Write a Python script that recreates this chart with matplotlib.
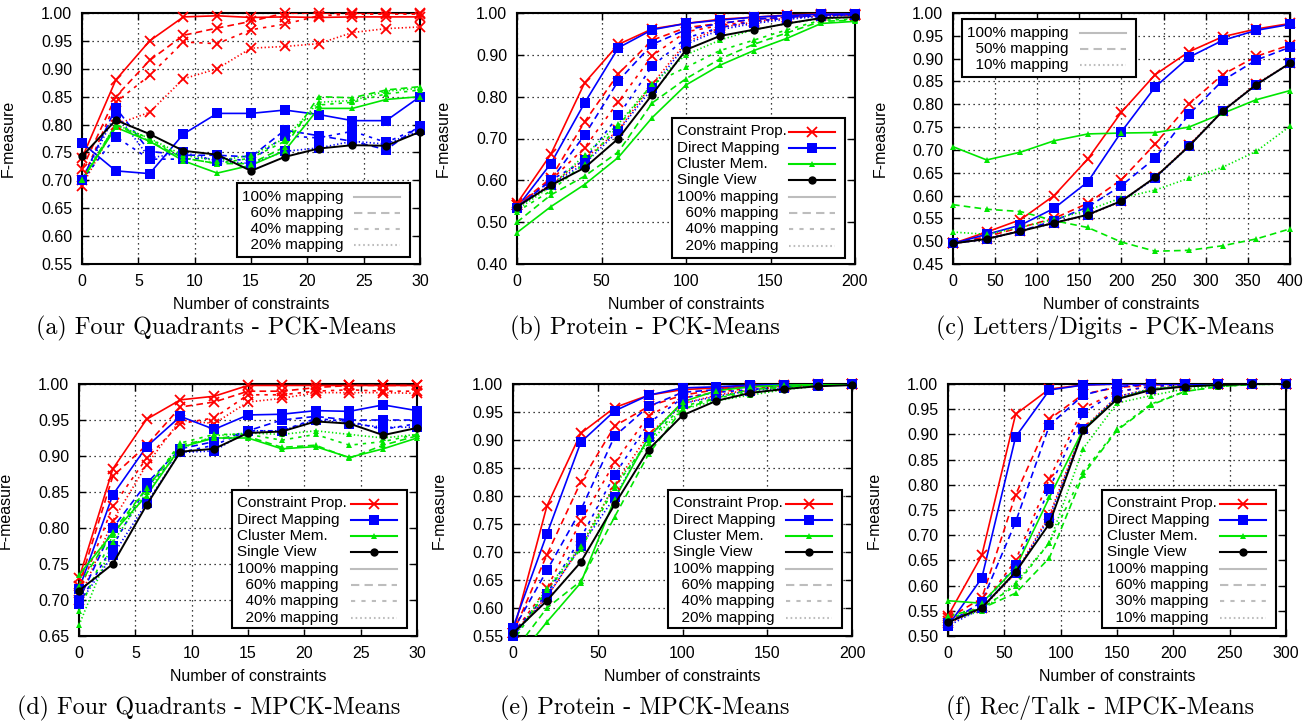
import matplotlib
matplotlib.use("Agg")
import matplotlib.pyplot as plt
from matplotlib.lines import Line2D
from matplotlib.patches import Rectangle
import numpy as np

plt.rcParams['font.family'] = ['Liberation Sans', 'DejaVu Sans']

# ---- données (lecture du graphique) ----
# chaque liste de méthode : [100%, 60%, 40%, 20%] (ou 3 niveaux pour (c))
a_x = [0, 3, 6, 9, 12, 15, 18, 21, 24, 27, 30]
a_cp = [[0.74, 0.88, 0.95, 0.993, 0.995, 0.992, 0.993, 0.992, 0.993, 0.993, 0.993],
        [0.72, 0.85, 0.915, 0.96, 0.973, 0.985, 1.0, 1.0, 1.0, 1.0, 1.0],
        [0.70, 0.84, 0.888, 0.948, 0.945, 0.97, 0.98, 0.995, 0.998, 0.998, 0.998],
        [0.69, 0.80, 0.822, 0.882, 0.90, 0.937, 0.94, 0.945, 0.965, 0.972, 0.975]]
a_dm = [[0.767, 0.717, 0.712, 0.783, 0.82, 0.82, 0.826, 0.818, 0.807, 0.807, 0.85],
        [0.70, 0.83, 0.752, 0.745, 0.745, 0.742, 0.79, 0.78, 0.77, 0.755, 0.798],
        [0.70, 0.778, 0.738, 0.738, 0.74, 0.735, 0.78, 0.776, 0.788, 0.768, 0.795],
        [0.70, 0.82, 0.74, 0.75, 0.735, 0.73, 0.752, 0.758, 0.77, 0.765, 0.79]]
a_cm = [[0.70, 0.795, 0.77, 0.735, 0.713, 0.727, 0.753, 0.829, 0.829, 0.845, 0.85],
        [0.70, 0.80, 0.77, 0.74, 0.73, 0.73, 0.76, 0.85, 0.848, 0.862, 0.868],
        [0.70, 0.80, 0.775, 0.74, 0.73, 0.74, 0.77, 0.835, 0.84, 0.855, 0.862],
        [0.70, 0.80, 0.775, 0.745, 0.735, 0.745, 0.775, 0.84, 0.843, 0.86, 0.865]]
a_sv = [0.743, 0.808, 0.783, 0.753, 0.746, 0.717, 0.742, 0.757, 0.763, 0.762, 0.787]

b_x = [0, 20, 40, 60, 80, 100, 120, 140, 160, 180, 200]
b_cp = [[0.545, 0.662, 0.833, 0.925, 0.962, 0.975, 0.985, 0.99, 0.995, 0.998, 0.998],
        [0.54, 0.605, 0.74, 0.855, 0.935, 0.965, 0.975, 0.985, 0.99, 0.995, 0.995],
        [0.54, 0.60, 0.678, 0.788, 0.898, 0.955, 0.97, 0.98, 0.99, 0.995, 0.995],
        [0.54, 0.59, 0.65, 0.72, 0.83, 0.93, 0.965, 0.978, 0.988, 0.993, 0.995]]
b_dm = [[0.535, 0.64, 0.785, 0.917, 0.96, 0.975, 0.983, 0.99, 0.994, 0.997, 0.998],
        [0.535, 0.60, 0.708, 0.838, 0.925, 0.96, 0.975, 0.985, 0.99, 0.995, 0.997],
        [0.535, 0.60, 0.648, 0.755, 0.873, 0.94, 0.965, 0.98, 0.988, 0.994, 0.996],
        [0.535, 0.59, 0.64, 0.718, 0.82, 0.925, 0.96, 0.975, 0.985, 0.992, 0.995]]
b_cm = [[0.475, 0.537, 0.59, 0.655, 0.75, 0.828, 0.875, 0.91, 0.94, 0.975, 0.98],
        [0.50, 0.565, 0.61, 0.668, 0.785, 0.843, 0.89, 0.925, 0.953, 0.98, 0.983],
        [0.525, 0.575, 0.64, 0.73, 0.83, 0.87, 0.91, 0.935, 0.96, 0.983, 0.985],
        [0.53, 0.585, 0.66, 0.735, 0.83, 0.90, 0.935, 0.96, 0.975, 0.987, 0.99]]
b_sv = [0.537, 0.588, 0.63, 0.70, 0.805, 0.912, 0.945, 0.96, 0.975, 0.988, 0.99]

c_x = [0, 40, 80, 120, 160, 200, 240, 280, 320, 360, 400]
c_cp = [[0.495, 0.52, 0.547, 0.60, 0.68, 0.783, 0.865, 0.915, 0.948, 0.965, 0.977],
        [0.495, 0.51, 0.53, 0.55, 0.583, 0.635, 0.713, 0.80, 0.865, 0.905, 0.93],
        [0.495, 0.505, 0.523, 0.54, 0.557, 0.588, 0.64, 0.71, 0.785, 0.845, 0.89]]
c_dm = [[0.495, 0.515, 0.535, 0.572, 0.63, 0.74, 0.838, 0.903, 0.94, 0.962, 0.975],
        [0.495, 0.505, 0.522, 0.545, 0.575, 0.622, 0.682, 0.778, 0.852, 0.897, 0.925],
        [0.495, 0.505, 0.522, 0.54, 0.558, 0.588, 0.638, 0.708, 0.785, 0.843, 0.89]]
c_cm = [[0.707, 0.678, 0.695, 0.72, 0.735, 0.737, 0.738, 0.75, 0.78, 0.81, 0.83],
        [0.58, 0.57, 0.565, 0.545, 0.53, 0.498, 0.478, 0.48, 0.49, 0.505, 0.527],
        [0.52, 0.515, 0.53, 0.548, 0.568, 0.595, 0.612, 0.638, 0.662, 0.697, 0.752]]
c_sv = [0.495, 0.505, 0.522, 0.54, 0.558, 0.588, 0.64, 0.708, 0.785, 0.843, 0.89]

d_x = [0, 3, 6, 9, 12, 15, 18, 21, 24, 27, 30]
d_cp = [[0.73, 0.882, 0.951, 0.978, 0.983, 0.998, 0.998, 0.998, 0.998, 0.998, 0.998],
        [0.72, 0.872, 0.915, 0.968, 0.975, 0.99, 0.99, 0.995, 0.998, 0.998, 0.998],
        [0.71, 0.83, 0.897, 0.945, 0.953, 0.985, 0.985, 0.99, 0.992, 0.99, 0.99],
        [0.70, 0.81, 0.888, 0.95, 0.945, 0.975, 0.98, 0.988, 0.988, 0.988, 0.987]]
d_dm = [[0.715, 0.846, 0.913, 0.955, 0.937, 0.957, 0.958, 0.963, 0.962, 0.971, 0.963],
        [0.70, 0.80, 0.862, 0.91, 0.92, 0.935, 0.95, 0.955, 0.95, 0.95, 0.95],
        [0.695, 0.775, 0.857, 0.905, 0.915, 0.935, 0.935, 0.952, 0.948, 0.937, 0.945],
        [0.695, 0.762, 0.835, 0.905, 0.907, 0.935, 0.935, 0.95, 0.945, 0.94, 0.94]]
d_cm = [[0.735, 0.793, 0.845, 0.912, 0.925, 0.925, 0.91, 0.913, 0.898, 0.91, 0.925],
        [0.72, 0.795, 0.855, 0.915, 0.925, 0.927, 0.912, 0.915, 0.897, 0.915, 0.928],
        [0.685, 0.79, 0.855, 0.918, 0.93, 0.93, 0.922, 0.93, 0.915, 0.92, 0.93],
        [0.665, 0.78, 0.85, 0.91, 0.928, 0.932, 0.93, 0.935, 0.93, 0.925, 0.93]]
d_sv = [0.713, 0.75, 0.832, 0.906, 0.91, 0.932, 0.934, 0.948, 0.945, 0.929, 0.939]

e_x = [0, 20, 40, 60, 80, 100, 120, 140, 160, 180, 200]
e_cp = [[0.555, 0.782, 0.912, 0.958, 0.98, 0.99, 0.993, 0.997, 0.998, 1.0, 1.0],
        [0.555, 0.695, 0.825, 0.925, 0.96, 0.98, 0.99, 0.995, 0.997, 0.999, 1.0],
        [0.555, 0.635, 0.755, 0.86, 0.943, 0.975, 0.985, 0.993, 0.996, 0.999, 1.0],
        [0.555, 0.62, 0.71, 0.82, 0.91, 0.965, 0.98, 0.99, 0.995, 0.998, 1.0]]
e_dm = [[0.565, 0.732, 0.896, 0.952, 0.98, 0.993, 0.995, 0.998, 0.999, 1.0, 1.0],
        [0.56, 0.667, 0.775, 0.907, 0.96, 0.985, 0.99, 0.995, 0.998, 1.0, 1.0],
        [0.555, 0.625, 0.725, 0.838, 0.93, 0.975, 0.985, 0.99, 0.995, 0.998, 1.0],
        [0.55, 0.62, 0.71, 0.798, 0.905, 0.965, 0.978, 0.988, 0.993, 0.997, 1.0]]
e_cm = [[0.50, 0.575, 0.645, 0.795, 0.905, 0.968, 0.988, 0.995, 0.998, 0.999, 1.0],
        [0.52, 0.60, 0.648, 0.763, 0.875, 0.955, 0.975, 0.99, 0.995, 0.998, 1.0],
        [0.54, 0.632, 0.705, 0.815, 0.90, 0.96, 0.975, 0.985, 0.993, 0.998, 1.0],
        [0.545, 0.635, 0.71, 0.82, 0.895, 0.955, 0.97, 0.98, 0.99, 0.996, 1.0]]
e_sv = [0.555, 0.613, 0.682, 0.785, 0.883, 0.944, 0.97, 0.984, 0.991, 0.996, 0.998]

f_x = [0, 30, 60, 90, 120, 150, 180, 210, 240, 270, 300]
f_cp = [[0.54, 0.66, 0.94, 0.99, 0.998, 1.0, 1.0, 1.0, 1.0, 1.0, 1.0],
        [0.535, 0.575, 0.78, 0.93, 0.98, 0.993, 0.998, 1.0, 1.0, 1.0, 1.0],
        [0.53, 0.56, 0.65, 0.812, 0.952, 0.985, 0.995, 0.999, 1.0, 1.0, 1.0],
        [0.525, 0.555, 0.625, 0.74, 0.912, 0.975, 0.99, 0.997, 1.0, 1.0, 1.0]]
f_dm = [[0.52, 0.615, 0.895, 0.988, 0.998, 1.0, 1.0, 1.0, 1.0, 1.0, 1.0],
        [0.525, 0.568, 0.726, 0.918, 0.978, 0.995, 0.999, 1.0, 1.0, 1.0, 1.0],
        [0.525, 0.56, 0.64, 0.792, 0.943, 0.985, 0.995, 0.999, 1.0, 1.0, 1.0],
        [0.52, 0.555, 0.625, 0.735, 0.91, 0.975, 0.99, 0.997, 1.0, 1.0, 1.0]]
f_cm = [[0.57, 0.565, 0.635, 0.775, 0.91, 0.97, 0.99, 0.995, 0.998, 1.0, 1.0],
        [0.54, 0.555, 0.585, 0.655, 0.82, 0.908, 0.958, 0.985, 0.995, 0.999, 1.0],
        [0.535, 0.555, 0.60, 0.685, 0.825, 0.91, 0.96, 0.985, 0.995, 0.999, 1.0],
        [0.53, 0.55, 0.605, 0.685, 0.872, 0.962, 0.977, 0.99, 0.997, 1.0, 1.0]]
f_sv = [0.527, 0.556, 0.627, 0.723, 0.908, 0.97, 0.988, 0.995, 0.998, 1.0, 1.0]

methods = ["Constraint Prop.", "Direct Mapping", "Cluster Mem.", "Single View"]
levels_4 = ["100% mapping", "60% mapping", "40% mapping", "20% mapping"]
levels_c = ["100% mapping", "50% mapping", "10% mapping"]
levels_f = ["100% mapping", "60% mapping", "30% mapping", "10% mapping"]

captions = ["(a) Four Quadrants - PCK-Means", "(b) Protein - PCK-Means",
            "(c) Letters/Digits - PCK-Means", "(d) Four Quadrants - MPCK-Means",
            "(e) Protein - MPCK-Means", "(f) Rec/Talk - MPCK-Means"]

# ---- styles ----
colors = ['#ff0000', '#0000ff', '#00e600', '#000000']
markers = [dict(marker='x', ms=7.5, mew=1.3), dict(marker='s', ms=6.5, mew=0),
           dict(marker='^', ms=4.5, mew=0), dict(marker='o', ms=6, mew=0)]
styles_4 = ['-', (0, (4, 2.5)), (0, (2, 3)), (0, (0.8, 1.4))]
styles_3 = ['-', (0, (4, 2.5)), (0, (0.8, 1.4))]
gray = '#bdbdbd'

W, H = 1316, 723
fig = plt.figure(figsize=(W / 100, H / 100), dpi=100)


def make_ax(l, r, t, b):
    return fig.add_axes([l / W, 1 - b / H, (r - l) / W, (b - t) / H])


def draw(ax, x, cp, dm, cm, sv, styles):
    for mi, series in enumerate([cp, dm, cm]):
        for li, y in enumerate(series):
            ax.plot(x, y, color=colors[mi], ls=styles[li], lw=1.2, zorder=3)
            ax.plot(x, y, color=colors[mi], ls='none', zorder=4, clip_on=False,
                    markevery=[i for i, v in enumerate(y) if v >= ax.get_ylim()[0]],
                    **markers[mi])
    ax.plot(x, sv, color='k', lw=1.4, zorder=5)
    ax.plot(x, sv, color='k', ls='none', zorder=6, clip_on=False, **markers[3])


def style_ax(ax, xt, yt, row):
    ax.set_xlim(xt[0], xt[-1])
    ax.set_ylim(yt[0], yt[-1])
    ax.set_xticks(xt)
    ax.set_yticks(yt)
    ax.set_yticklabels([f"{v:.2f}" for v in yt])
    ax.tick_params(direction='in', length=5, width=1, top=True, right=True,
                   labelsize=11.5, pad=7)
    ax.grid(True, color='k', ls=(0, (1, 3)), lw=0.9)
    ax.set_axisbelow(True)
    for s in ax.spines.values():
        s.set_linewidth(1.5)
    ax.set_xlabel("Number of constraints", fontsize=11.5)
    ax.set_ylabel("F-measure", fontsize=11.5)
    ax.xaxis.set_label_coords(0.5, -0.13 if row == 0 else -0.131)
    ax.xaxis.label.set_va('top')
    ax.yaxis.set_label_coords(-0.195, 0.5)


def legend(ax, box, styles, levels, with_methods):
    # boîte de légende façon gnuplot, en pixels de la figure (y vers le bas)
    l, t, r, b = box
    tf = fig.transFigure
    ax.add_patch(Rectangle((l / W, 1 - b / H), (r - l) / W, (b - t) / H,
                           transform=tf, facecolor='white', edgecolor='k',
                           lw=1.5, zorder=10, clip_on=False))
    rows = []
    if with_methods:
        for mi, name in enumerate(methods):
            rows.append((name, colors[mi], '-', markers[mi]))
    for li, lab in enumerate(levels):
        rows.append((lab if lab.startswith("100") else "  " + lab, gray, styles[li], None))
    for k, (lab, col, ls, mk) in enumerate(rows):
        y = 1 - (t + 13.5 + 16.3 * k) / H
        ax.text((l + 5) / W, y, lab, transform=tf, fontsize=11, va='center',
                ha='left', zorder=11, clip_on=False)
        x0, x1 = (r - 56) / W, (r - 10) / W
        ax.add_line(Line2D([x0, x1], [y, y], transform=tf, color=col, ls=ls,
                           lw=1.5, zorder=11, clip_on=False))
        if mk is not None:
            ax.add_line(Line2D([(x0 + x1) / 2], [y], transform=tf, color=col,
                               ls='none', zorder=12, clip_on=False, **mk))


# (a)
ax = make_ax(82, 420, 13, 264)
style_ax(ax, np.arange(0, 31, 5), np.round(np.arange(0.55, 1.001, 0.05), 2), 0)
draw(ax, a_x, a_cp, a_dm, a_cm, a_sv, styles_4)
legend(ax, (237, 183, 410, 257), styles_4, levels_4, False)

# (b)
ax = make_ax(517, 855, 13, 264)
style_ax(ax, np.arange(0, 201, 50), np.round(np.arange(0.40, 1.001, 0.10), 2), 0)
draw(ax, b_x, b_cp, b_dm, b_cm, b_sv, styles_4)
legend(ax, (672, 118, 845, 258), styles_4, levels_4, True)

# (c)
ax = make_ax(953, 1290, 13, 264)
style_ax(ax, np.arange(0, 401, 50), np.round(np.arange(0.45, 1.001, 0.05), 2), 0)
draw(ax, c_x, c_cp, c_dm, c_cm, c_sv, styles_3)
legend(ax, (962, 19, 1136, 77), styles_3, levels_c, False)

# (d)
ax = make_ax(79, 417, 384, 636)
style_ax(ax, np.arange(0, 31, 5), np.round(np.arange(0.65, 1.001, 0.05), 2), 1)
draw(ax, d_x, d_cp, d_dm, d_cm, d_sv, styles_4)
legend(ax, (232, 490, 407, 628), styles_4, levels_4, True)

# (e)
ax = make_ax(513, 852, 384, 636)
style_ax(ax, np.arange(0, 201, 50), np.round(np.arange(0.55, 1.001, 0.05), 2), 1)
draw(ax, e_x, e_cp, e_dm, e_cm, e_sv, styles_4)
legend(ax, (668, 490, 842, 628), styles_4, levels_4, True)

# (f)
ax = make_ax(948, 1286, 384, 636)
style_ax(ax, np.arange(0, 301, 50), np.round(np.arange(0.50, 1.001, 0.05), 2), 1)
draw(ax, f_x, f_cp, f_dm, f_cm, f_sv, styles_4)
legend(ax, (1102, 490, 1276, 628), styles_4, levels_f, True)

# légendes des sous-figures
cap_x = [216, 645, 1105, 209, 645, 1100]
cap_y = [328, 328, 328, 708, 708, 708]
for cx, cy, txt in zip(cap_x, cap_y, captions):
    fig.text(cx / W, 1 - cy / H, txt, family='cmr10', fontsize=17.3,
             ha='center', va='center')

fig.savefig("out.png", dpi=100, facecolor='white')
